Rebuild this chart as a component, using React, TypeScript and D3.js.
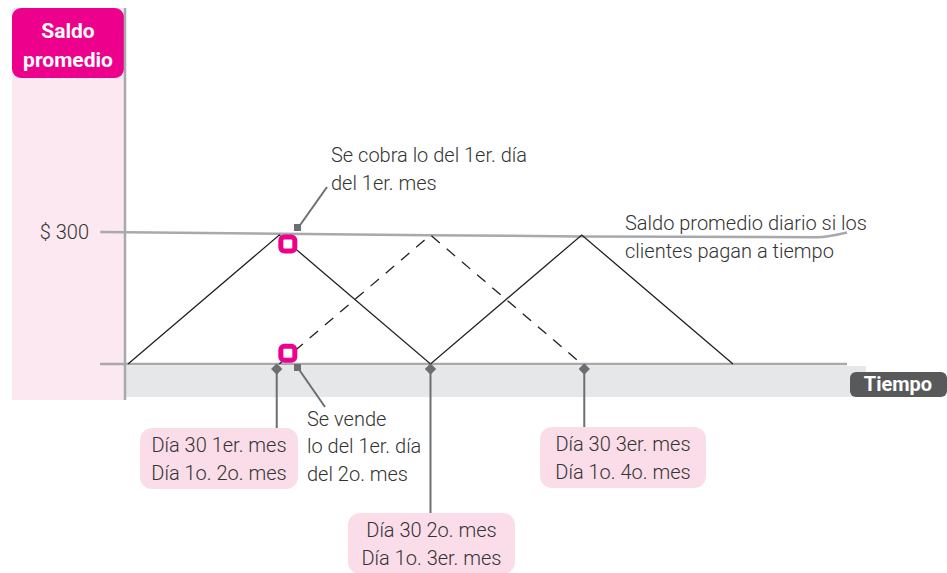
import React from 'react'
import { scaleLinear, line, curveMonotoneX, curveLinear } from 'd3'

// days of the four months and balance values
const solidDays = [0, 30, 60, 90, 120]
const solidValues = [0, 300, 0, 300, 0]
const dashedDays = [30, 60, 90]
const dashedValues = [0, 300, 0]
const refDays = [-5.5, 40, 90, 136.7, 142.6]
const refValues = [307, 302, 296.5, 295, 306]
const tickDays = [29.5, 60, 90.5]
const tickLabels = [
    ['Día 30 1er. mes', 'Día 1o. 2o. mes'],
    ['Día 30 2o. mes', 'Día 1o. 3er. mes'],
    ['Día 30 3er. mes', 'Día 1o. 4o. mes'],
]
// label boxes: left, top, width
const boxLeft = [140, 348, 540]
const boxTop = [428, 513, 427]
const boxWidth = [158, 167, 166]
const markerPoints = [[31.7, 279], [31.7, 25]]

const W = 947
const H = 573
const FONT = 'Roboto, "Noto Sans", sans-serif'
const TEXT = '#333'

const App = () => {
    const x = scaleLinear().domain([0, 120]).range([128, 733])
    const y = scaleLinear().domain([0, 300]).range([364, 235])

    const path = line<[number, number]>()
        .x(d => x(d[0]))
        .y(d => y(d[1]))
        .curve(curveLinear)

    const solid = solidDays.map((d, i) => [d, solidValues[i]] as [number, number])
    const dashed = dashedDays.map((d, i) => [d, dashedValues[i]] as [number, number])
    const ref = refDays.map((d, i) => [d, refValues[i]] as [number, number])

    return (
        <svg width={W} height={H} style={{ position: 'absolute', left: 0, top: 0 }} fontFamily={FONT}>
            {/* left pink band and title */}
            <rect x={12} y={8} width={113} height={392} fill='#fce8f0' />
            <rect x={12} y={8} width={112} height={70} rx={9} fill='#ec008c' />
            <text x={68} y={38} textAnchor='middle' fill='#fff' fontSize={21} fontWeight={700}>Saldo</text>
            <text x={68} y={67} textAnchor='middle' fill='#fff' fontSize={21} fontWeight={700}>promedio</text>

            {/* time band */}
            <rect x={126} y={366} width={740} height={31} fill='#e6e7e8' />
            <rect x={850} y={372} width={97} height={25} rx={6} fill='#58595b' />
            <text x={898} y={391} textAnchor='middle' fill='#fff' fontSize={20} fontWeight={700}>Tiempo</text>

            {/* axes */}
            <line x1={125} x2={125} y1={8} y2={400} stroke='#a7a9ac' strokeWidth={2.5} />
            <line x1={100} x2={847} y1={y(0)} y2={y(0)} stroke='#a7a9ac' strokeWidth={2.5} />
            <path d={line<[number, number]>().x(d => x(d[0])).y(d => y(d[1])).curve(curveMonotoneX)(ref) || ''}
                fill='none' stroke='#a7a9ac' strokeWidth={2.5} />
            <text x={89} y={239} textAnchor='end' fill={TEXT} fontSize={20} fontWeight={300}>$ 300</text>

            {/* balance lines */}
            <path d={path(solid) || ''} fill='none' stroke='#231f20' strokeWidth={1.3} />
            <path d={path(dashed) || ''} fill='none' stroke='#231f20' strokeWidth={1.3} strokeDasharray='11 9' />

            {/* ticks and labels */}
            {tickDays.map((d, i) => {
                const cx = x(d)
                const left = boxLeft[i]
                const w = boxWidth[i]
                const top = boxTop[i]
                return (
                    <g key={i}>
                        <line x1={cx} x2={cx} y1={370} y2={top} stroke='#6d6e71' strokeWidth={2} />
                        <rect x={cx - 4} y={365} width={8} height={8} fill='#6d6e71' transform={`rotate(45 ${cx} ${369})`} />
                        <rect x={left} y={top} width={w} height={61} rx={12} fill='#fbdde9' />
                        <text x={left + w / 2} y={top + 24} textAnchor='middle' fill={TEXT} fontSize={20} fontWeight={300}>{tickLabels[i][0]}</text>
                        <text x={left + w / 2} y={top + 52} textAnchor='middle' fill={TEXT} fontSize={20} fontWeight={300}>{tickLabels[i][1]}</text>
                    </g>
                )
            })}

            {/* annotation pointers */}
            <line x1={298} y1={228} x2={327} y2={187} stroke='#6d6e71' strokeWidth={2} />
            <rect x={294} y={224} width={7} height={7} fill='#6d6e71' />
            <line x1={298} y1={368} x2={325} y2={407} stroke='#6d6e71' strokeWidth={2} />
            <rect x={294} y={364} width={7} height={7} fill='#6d6e71' />

            <g fill={TEXT} fontSize={20} fontWeight={300}>
                <text x={331} y={162}>Se cobra lo del 1er. día</text>
                <text x={331} y={190}>del 1er. mes</text>
                <text x={307} y={426}>Se vende</text>
                <text x={307} y={453}>lo del 1er. día</text>
                <text x={307} y={481}>del 2o. mes</text>
                <text x={625} y={230}>Saldo promedio diario si los</text>
                <text x={625} y={258}>clientes pagan a tiempo</text>
            </g>

            {/* markers */}
            {markerPoints.map((p, i) => (
                <rect key={i} x={x(p[0]) - 7} y={y(p[1]) - 7} width={14} height={14} rx={3.5}
                    fill='#fff' stroke='#ec008c' strokeWidth={5} />
            ))}
        </svg>
    )
}

export default App
